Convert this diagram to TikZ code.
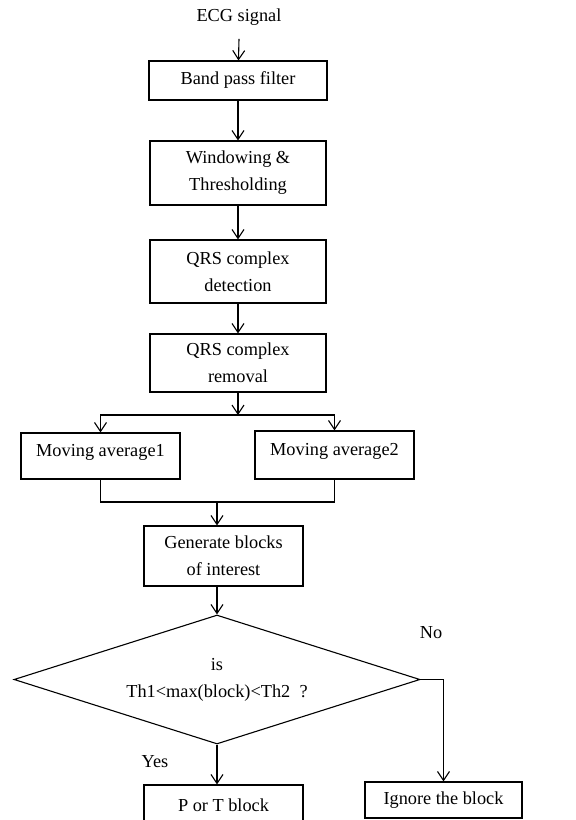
\documentclass[tikz,border=0pt]{standalone}
\usepackage{fontspec}
\setmainfont{Liberation Serif}
\usetikzlibrary{arrows.meta,shapes.geometric}

\begin{document}
\begin{tikzpicture}[x=1pt,y=-1pt,
        font=\fontsize{18.3}{27}\selectfont,
        box/.style={draw,line width=1.1pt,align=center,inner sep=0pt},
        dia/.style={draw,diamond,aspect=3.15,line width=1.1pt,align=center,inner sep=0pt,
            minimum width=406pt,minimum height=129pt},
        arr/.style={line width=1.1pt,-{Straight Barb[length=9pt,width=12pt]}}]
        \useasboundingbox (0,0) rectangle (576,820);
        \clip (0,0) rectangle (576,820);
        % main column
        \node (ecg) at (239,17) {ECG signal};
        \node[box,minimum width=178pt,minimum height=39pt] (bpf) at (238,80.5) {Band pass filter};
        \node[box,minimum width=176pt,minimum height=64pt] (win) at (238,173) {Windowing \&\\Thresholding};
        \node[box,minimum width=176pt,minimum height=63pt] (det) at (238,271.5) {QRS complex\\detection};
        \node[box,minimum width=176pt,minimum height=58pt] (rem) at (238,363) {QRS complex\\removal};
        % two averages
        \node[box,minimum width=159pt,minimum height=46pt,text depth=12pt] (ma1) at (100.5,456) {Moving average1};
        \node[box,minimum width=159pt,minimum height=48pt,text depth=12pt] (ma2) at (334.5,455) {Moving average2};
        \node[box,minimum width=159pt,minimum height=60pt] (gen) at (223.5,556) {Generate blocks\\of interest};
        % decision
        \node[dia] (dec) at (217,679.5) {is\\Th1<max(block)<Th2\ \ ?};
        \node (no) at (431,633) {No};
        \node (yes) at (155,762) {Yes};
        \node[box,minimum width=159pt,minimum height=40pt] (pt) at (223.5,805) {P or T block};
        \node[box,minimum width=157pt,minimum height=36pt] (ign) at (443.5,800) {Ignore the block};
        \coordinate (split) at (238,415);
        \coordinate (merge) at (217,502);
        % connectors
        \draw[arr] (ecg.south) ++(0,10) -- (bpf);
        \draw[arr] (bpf) -- (win);
        \draw[arr] (win) -- (det);
        \draw[arr] (det) -- (rem);
        \draw[arr] (rem) -- (split);
        \draw[arr] (split) -| (ma1);
        \draw[arr] (split) -| (ma2);
        \draw[line width=1.1pt] (ma1) |- (merge) -| (ma2);
        \draw[arr] (merge) -- (merge |- gen.north);
        \draw[arr] (gen.south -| merge) -- (dec);
        \draw[arr] (dec.south) -- (dec.south |- pt.north);
        \draw[arr] (dec.east) -| (ign);
    \end{tikzpicture}
\end{document}
